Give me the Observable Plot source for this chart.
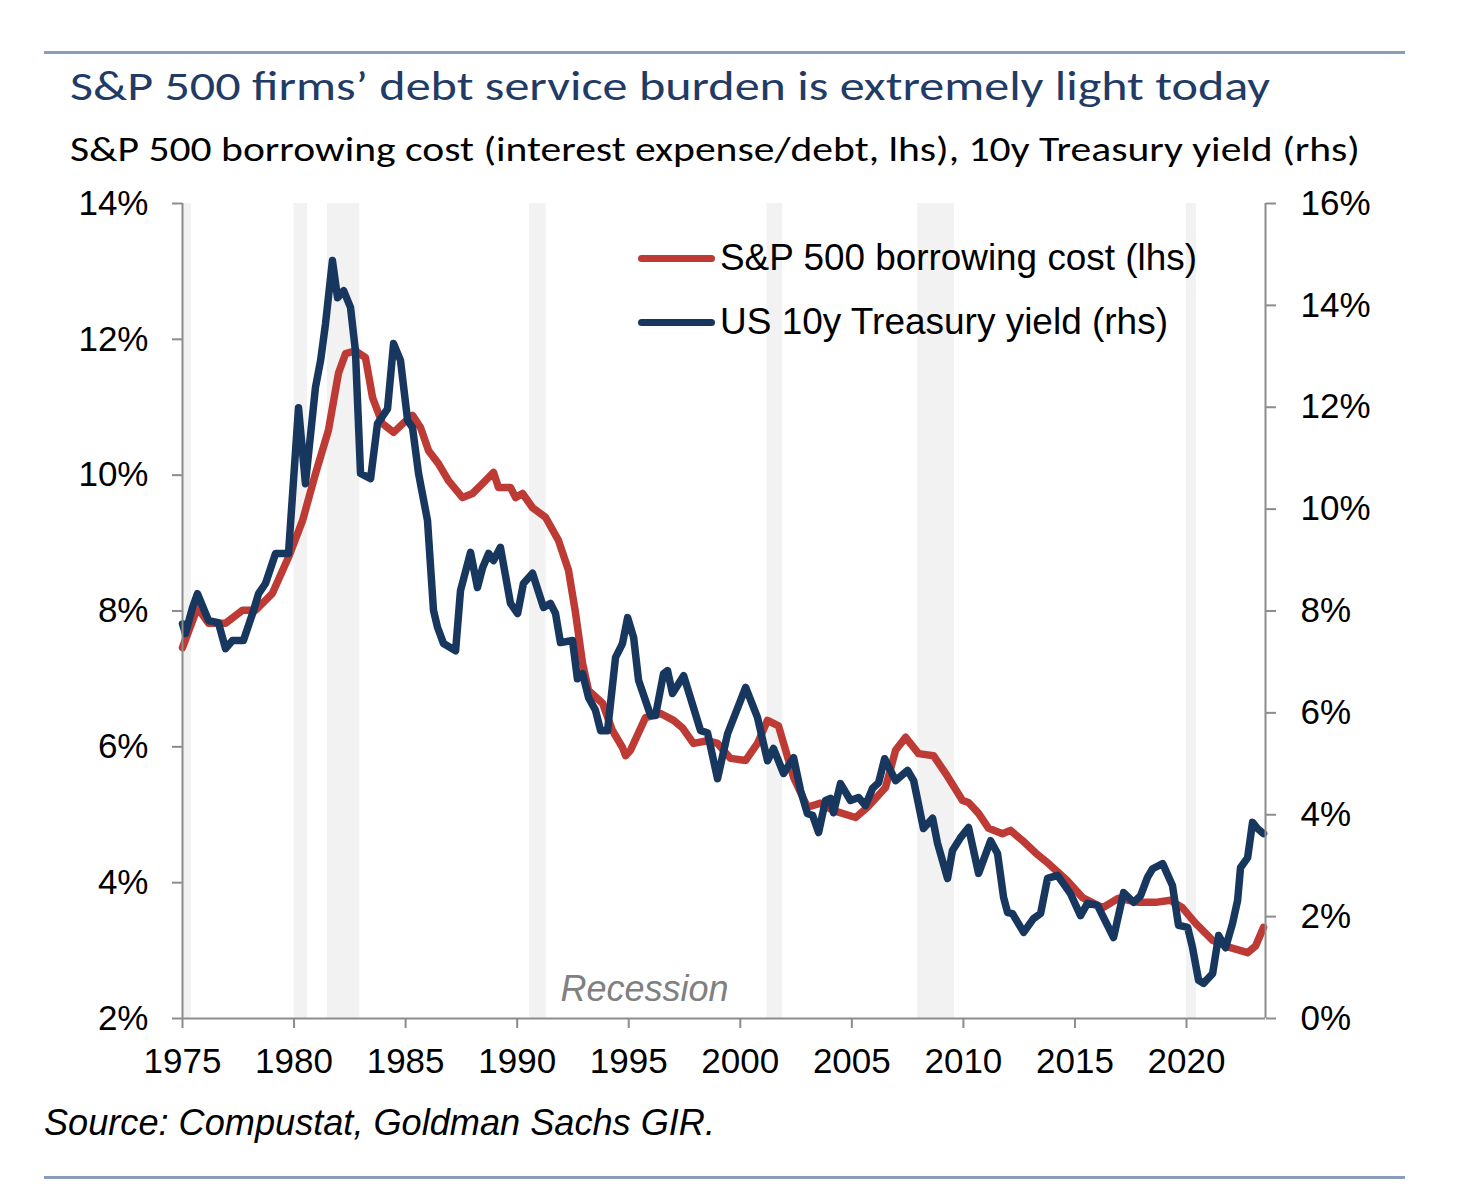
<!DOCTYPE html>
<html>
<head>
<meta charset="utf-8">
<script src="https://cdn.jsdelivr.net/npm/d3@7"></script>
<script src="https://cdn.jsdelivr.net/npm/@observablehq/plot@0.6"></script>
<style>
  body { margin: 0; background: #fff; }
  #wrap { position: relative; width: 1458px; height: 1188px; overflow: hidden; background: #fff; }
  .rule { position: absolute; left: 44px; width: 1361px; height: 3px; background: #8a9dba; }
  .txt { position: absolute; white-space: nowrap; line-height: 1; transform-origin: 0 0; }
  #title { left: 70px; top: 65px; font-family: "Carlito", "Lato", sans-serif; font-size: 42px; color: #1f3b66; }
  #subtitle { left: 70px; top: 132px; font-family: "Carlito", "Lato", sans-serif; font-size: 35px; color: #000; }
  #source { left: 44px; top: 1105px; font-family: "Liberation Sans", Arial, sans-serif; font-style: italic; font-size: 36px; color: #000; }
  .leg { font-family: "Liberation Sans", Arial, sans-serif; font-size: 36px; color: #000; left: 720px; }
  .swatch { position: absolute; left: 638px; width: 77px; height: 7px; border-radius: 4px; }
  #chart { position: absolute; left: 0; top: 180px; }
</style>
</head>
<body>
<div id="wrap">
  <div class="rule" style="top:51px"></div>
  <div id="title" class="txt">S&amp;P 500 firms’ debt service burden is extremely light today</div>
  <div id="subtitle" class="txt">S&amp;P 500 borrowing cost (interest expense/debt, lhs), 10y Treasury yield (rhs)</div>
  <div id="chart"></div>
  <div class="swatch" style="top:255px;background:#be3a34"></div>
  <div id="leg1" class="txt leg" style="top:240px">S&amp;P 500 borrowing cost (lhs)</div>
  <div class="swatch" style="top:319px;background:#17375e"></div>
  <div id="leg2" class="txt leg" style="top:304px">US 10y Treasury yield (rhs)</div>
  <div id="source" class="txt">Source: Compustat, Goldman Sachs GIR.</div>
  <div class="rule" style="top:1176px"></div>
</div>
<script>
// ---- Data ----
const borrowYears = [1975.00,1975.67,1976.17,1976.93,1977.69,1978.27,1979.03,1979.75,1980.38,1980.96,
  1981.54,1981.99,1982.31,1982.75,1983.20,1983.52,1983.96,1984.46,1984.91,1985.31,
  1985.67,1986.03,1986.47,1986.92,1987.55,1988.00,1988.49,1988.94,1989.16,1989.70,
  1989.93,1990.24,1990.69,1991.27,1991.85,1992.30,1992.62,1992.93,1993.20,1993.83,
  1994.27,1994.72,1994.86,1995.08,1995.75,1996.43,1997.01,1997.41,1997.90,1998.53,
  1998.98,1999.56,2000.24,2000.77,2001.22,2001.71,2002.39,2003.01,2003.60,2004.18,
  2005.17,2005.70,2006.51,2006.96,2007.41,2007.99,2008.66,2009.20,2009.96,2010.23,
  2010.68,2011.13,2011.75,2012.11,2012.65,2013.23,2013.82,2014.65,2015.34,2016.24,
  2016.95,2017.85,2018.61,2019.28,2019.82,2020.41,2021.17,2021.89,2022.74,2023.10,2023.45];
const borrowCost = [7.46,8.05,7.82,7.82,8.01,8.01,8.26,8.79,9.33,10.02,
  10.66,11.50,11.79,11.83,11.73,11.14,10.76,10.63,10.77,10.88,
  10.70,10.36,10.17,9.92,9.67,9.73,9.89,10.04,9.82,9.82,
  9.67,9.73,9.52,9.38,9.04,8.60,7.96,7.23,6.83,6.64,
  6.24,5.99,5.87,5.95,6.43,6.49,6.39,6.28,6.05,6.09,
  6.05,5.83,5.80,6.05,6.39,6.31,5.55,5.11,5.17,5.06,
  4.96,5.11,5.40,5.95,6.14,5.90,5.87,5.61,5.21,5.18,
  5.02,4.80,4.72,4.77,4.62,4.44,4.28,4.03,3.78,3.63,
  3.77,3.71,3.71,3.74,3.63,3.40,3.15,3.05,2.97,3.07,3.34];

const tsyYears = [1975.00,1975.13,1975.45,1975.67,1976.17,1976.61,1976.93,1977.24,1977.73,1978.14,
  1978.41,1978.72,1979.17,1979.75,1980.20,1980.51,1980.96,1981.19,1981.41,1981.72,
  1981.95,1982.22,1982.53,1982.75,1982.98,1983.43,1983.74,1984.19,1984.46,1984.77,
  1985.09,1985.31,1985.58,1985.98,1986.25,1986.43,1986.70,1987.24,1987.46,1987.91,
  1988.22,1988.45,1988.72,1988.94,1989.25,1989.70,1990.02,1990.28,1990.69,1991.18,
  1991.49,1991.72,1991.94,1992.48,1992.70,1992.93,1993.20,1993.51,1993.74,1994.05,
  1994.41,1994.72,1994.95,1995.22,1995.44,1995.98,1996.20,1996.56,1996.74,1996.96,
  1997.46,1998.22,1998.53,1998.98,1999.43,2000.24,2000.77,2001.22,2001.49,2001.94,
  2002.39,2002.70,2003.01,2003.24,2003.51,2003.82,2004.04,2004.18,2004.49,2004.94,
  2005.30,2005.61,2005.93,2006.20,2006.47,2006.96,2007.50,2007.77,2008.21,2008.62,
  2008.84,2009.29,2009.51,2009.87,2010.23,2010.68,2011.22,2011.53,2011.80,2011.98,
  2012.20,2012.70,2013.14,2013.46,2013.77,2014.22,2014.80,2015.25,2015.56,2016.01,
  2016.73,2017.18,2017.63,2017.94,2018.25,2018.48,2018.93,2019.37,2019.64,2020.05,
  2020.27,2020.54,2020.76,2021.17,2021.44,2021.75,2022.06,2022.29,2022.42,2022.74,
  2022.96,2023.18,2023.45];
const tsyYield = [7.75,7.56,8.07,8.34,7.81,7.77,7.26,7.42,7.42,7.95,
  8.34,8.54,9.13,9.13,11.99,10.50,12.39,12.92,13.64,14.88,
  14.15,14.29,13.96,13.11,10.70,10.60,11.68,11.97,13.25,12.92,
  11.74,11.60,10.70,9.78,8.01,7.68,7.36,7.22,8.40,9.15,
  8.46,8.85,9.13,8.99,9.25,8.15,7.95,8.54,8.74,8.07,
  8.15,7.95,7.38,7.42,6.67,6.77,6.30,6.05,5.65,5.65,
  7.09,7.36,7.87,7.48,6.64,5.95,5.95,6.77,6.83,6.38,
  6.73,5.65,5.61,4.71,5.59,6.50,5.91,5.06,5.30,4.81,
  5.12,4.48,4.02,3.99,3.65,4.28,4.32,4.04,4.61,4.28,
  4.34,4.18,4.52,4.63,5.10,4.67,4.87,4.67,3.73,3.93,
  3.44,2.75,3.30,3.55,3.75,2.85,3.49,3.24,2.38,2.08,
  2.06,1.69,1.96,2.06,2.75,2.81,2.45,2.02,2.26,2.22,
  1.59,2.47,2.28,2.41,2.77,2.94,3.04,2.61,1.83,1.79,
  1.39,0.75,0.69,0.88,1.63,1.39,1.86,2.32,2.96,3.16,
  3.85,3.73,3.63];

const recessionStart = [1975.0, 1980.0, 1981.5, 1990.55, 2001.2, 2007.95, 2020.0];
const recessionEnd   = [1975.4, 1980.6, 1982.95, 1991.3, 2001.9, 2009.6, 2020.45];

const xTicks = [1975, 1980, 1985, 1990, 1995, 2000, 2005, 2010, 2015, 2020];
const leftTicks = [2, 4, 6, 8, 10, 12, 14];
const rightTicks = [0, 2, 4, 6, 8, 10, 12, 14, 16];
const xDomain = [1975, 2023.54];
const leftDomain = [2, 14];
const rightDomain = [0, 16];
const recessionLabel = [{year: 1995.71, value: 2.43, text: "Recession"}];

// ---- Build tables ----
const borrow = borrowYears.map((y, i) => ({year: y, value: borrowCost[i]}));
const tsy = tsyYears.map((y, i) => ({year: y, value: tsyYield[i]}));
const recessions = recessionStart.map((s, i) => ({start: s, end: recessionEnd[i]}));

// map rhs values onto the lhs scale
const k = (leftDomain[1] - leftDomain[0]) / (rightDomain[1] - rightDomain[0]);
const toLeft = v => leftDomain[0] + (v - rightDomain[0]) * k;
const fromLeft = t => rightDomain[0] + (t - leftDomain[0]) / k;

const axisColor = "#8c8c8c";
const chart = Plot.plot({
  width: 1458,
  height: 900,
  marginLeft: 182,
  marginRight: 193,
  marginTop: 23,
  marginBottom: 62,
  x: {domain: xDomain},
  y: {domain: leftDomain},
  style: {fontFamily: "'Liberation Sans', Arial, sans-serif", fontSize: "35px", background: "transparent", color: "#000"},
  marks: [
    Plot.rect(recessions, {x1: "start", x2: "end", fill: "#f2f2f2"}),
    Plot.text(recessionLabel, {x: "year", y: "value", text: "text", fontStyle: "italic", fill: "#808080", fontSize: 36}),
    Plot.line(borrow, {x: "year", y: "value", stroke: "#be3a34", strokeWidth: 7.5, strokeLinejoin: "round", strokeLinecap: "round"}),
    Plot.line(tsy, {x: "year", y: d => toLeft(d.value), stroke: "#17375e", strokeWidth: 7.5, strokeLinejoin: "round", strokeLinecap: "round"}),
    Plot.ruleY([leftDomain[0]], {stroke: axisColor, strokeWidth: 2}),
    Plot.ruleX(xDomain, {stroke: axisColor, strokeWidth: 2}),
    Plot.axisX(xTicks, {tickSize: 10, tickPadding: 20, tickFormat: d => String(d), stroke: axisColor, strokeWidth: 2, fill: "#000", fontSize: 35, label: null}),
    Plot.axisY(leftTicks, {anchor: "left", tickSize: 10, tickPadding: 24, tickFormat: d => d + "%", stroke: axisColor, strokeWidth: 2, fill: "#000", fontSize: 35, label: null}),
    Plot.axisY(rightTicks.map(toLeft), {anchor: "right", tickSize: 10, tickPadding: 25, tickFormat: t => Math.round(fromLeft(t)) + "%", stroke: axisColor, strokeWidth: 2, fill: "#000", fontSize: 35, label: null})
  ]
});
document.getElementById("chart").appendChild(chart);

function fit(id, w) {
  const el = document.getElementById(id);
  el.style.transform = "none";
  const r = el.getBoundingClientRect().width;
  if (r > 0) el.style.transform = `scaleX(${w / r})`;
}
function fitAll() {
  fit("title", 1200);
  fit("subtitle", 1290);
  fit("leg1", 477);
  fit("leg2", 448);
  fit("source", 671);
}
fitAll();
if (document.fonts && document.fonts.ready) document.fonts.ready.then(fitAll);
</script>
</body>
</html>
